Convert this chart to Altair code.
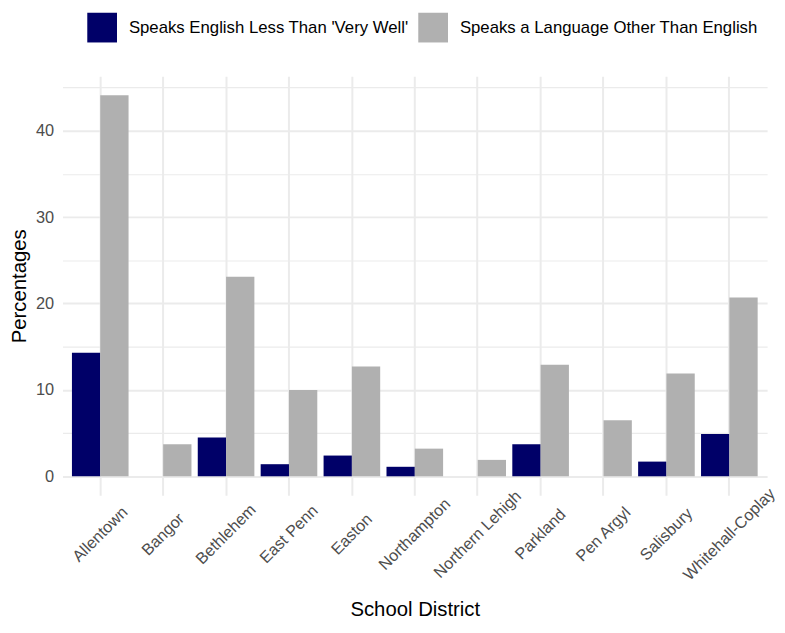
import altair as alt
import pandas as pd

districts = ["Allentown", "Bangor", "Bethlehem", "East Penn", "Easton", "Northampton",
             "Northern Lehigh", "Parkland", "Pen Argyl", "Salisbury", "Whitehall-Coplay"]
less_very_well = [14.3, None, 4.5, 1.4, 2.4, 1.1, None, 3.7, None, 1.7, 4.9]
other_language = [44.1, 3.7, 23.1, 10.0, 12.7, 3.2, 1.9, 12.9, 6.5, 11.9, 20.7]

series = ["Speaks English Less Than 'Very Well'", "Speaks a Language Other Than English"]
colors = ["#000068", "#B0B0B0"]

rows = []
for d, a, b in zip(districts, less_very_well, other_language):
    if a is not None:
        rows.append({"district": d, "series": series[0], "value": a})
    if b is not None:
        rows.append({"district": d, "series": series[1], "value": b})
df = pd.DataFrame(rows)

ymax = max(other_language)
pad = ymax * 0.05

chart = alt.Chart(df).mark_bar().encode(
    x=alt.X("district:N", sort=districts,
            scale=alt.Scale(paddingInner=0.1, paddingOuter=0.15),
            axis=alt.Axis(title="School District", labelAngle=-45, labelAlign="center",
                          labelBaseline="middle", labelPadding=39, labelFontSize=16.3,
                          labelColor="#4d4d4d", labelOverlap=False, grid=True,
                          gridColor="#ebebeb", gridWidth=2, ticks=False, tickSize=0,
                          domain=False, bandPosition=0.5, titleFontSize=20.5,
                          titleFontWeight="normal", titleColor="#000000",
                          titleY=121, titleBaseline="alphabetic")),
    xOffset=alt.XOffset("series:N", scale=alt.Scale(domain=series, paddingInner=0, paddingOuter=0)),
    y=alt.Y("value:Q",
            scale=alt.Scale(domain=[-pad, ymax + pad], nice=False, zero=False),
            axis=alt.Axis(title="Percentages", values=[0, 5, 10, 15, 20, 25, 30, 35, 40, 45],
                          labelExpr="datum.value % 10 === 0 ? datum.label : ''",
                          labelFontSize=16.5, labelColor="#4d4d4d", labelPadding=9,
                          ticks=False, tickSize=0, domain=False, grid=True, gridColor="#ebebeb",
                          gridWidth={"condition": {"test": "datum.value % 10 === 0", "value": 2},
                                     "value": 1.2},
                          titleFontSize=20.5, titleFontWeight="normal", titleColor="#000000",
                          titleX=-37.5, titleBaseline="alphabetic")),
    color=alt.Color("series:N", scale=alt.Scale(domain=series, range=colors),
                    legend=alt.Legend(title=None, orient="none", direction="horizontal",
                                      legendX=25, legendY=-64, symbolType="square",
                                      symbolSize=900, symbolStrokeWidth=0, symbolOpacity=1,
                                      labelFontSize=16.9, labelColor="#000000", labelOffset=12,
                                      columnPadding=9, labelLimit=400, padding=0)),
).properties(
    width=711,
    height=423,
    autosize=alt.AutoSizeParams(type="none"),
    padding={"left": 55, "top": 66, "right": 10, "bottom": 123},
).configure(
    font="Liberation Sans",
    background="#ffffff",
).configure_view(stroke=None)

chart.save("out.html", embed_options={"renderer": "svg", "actions": False})
